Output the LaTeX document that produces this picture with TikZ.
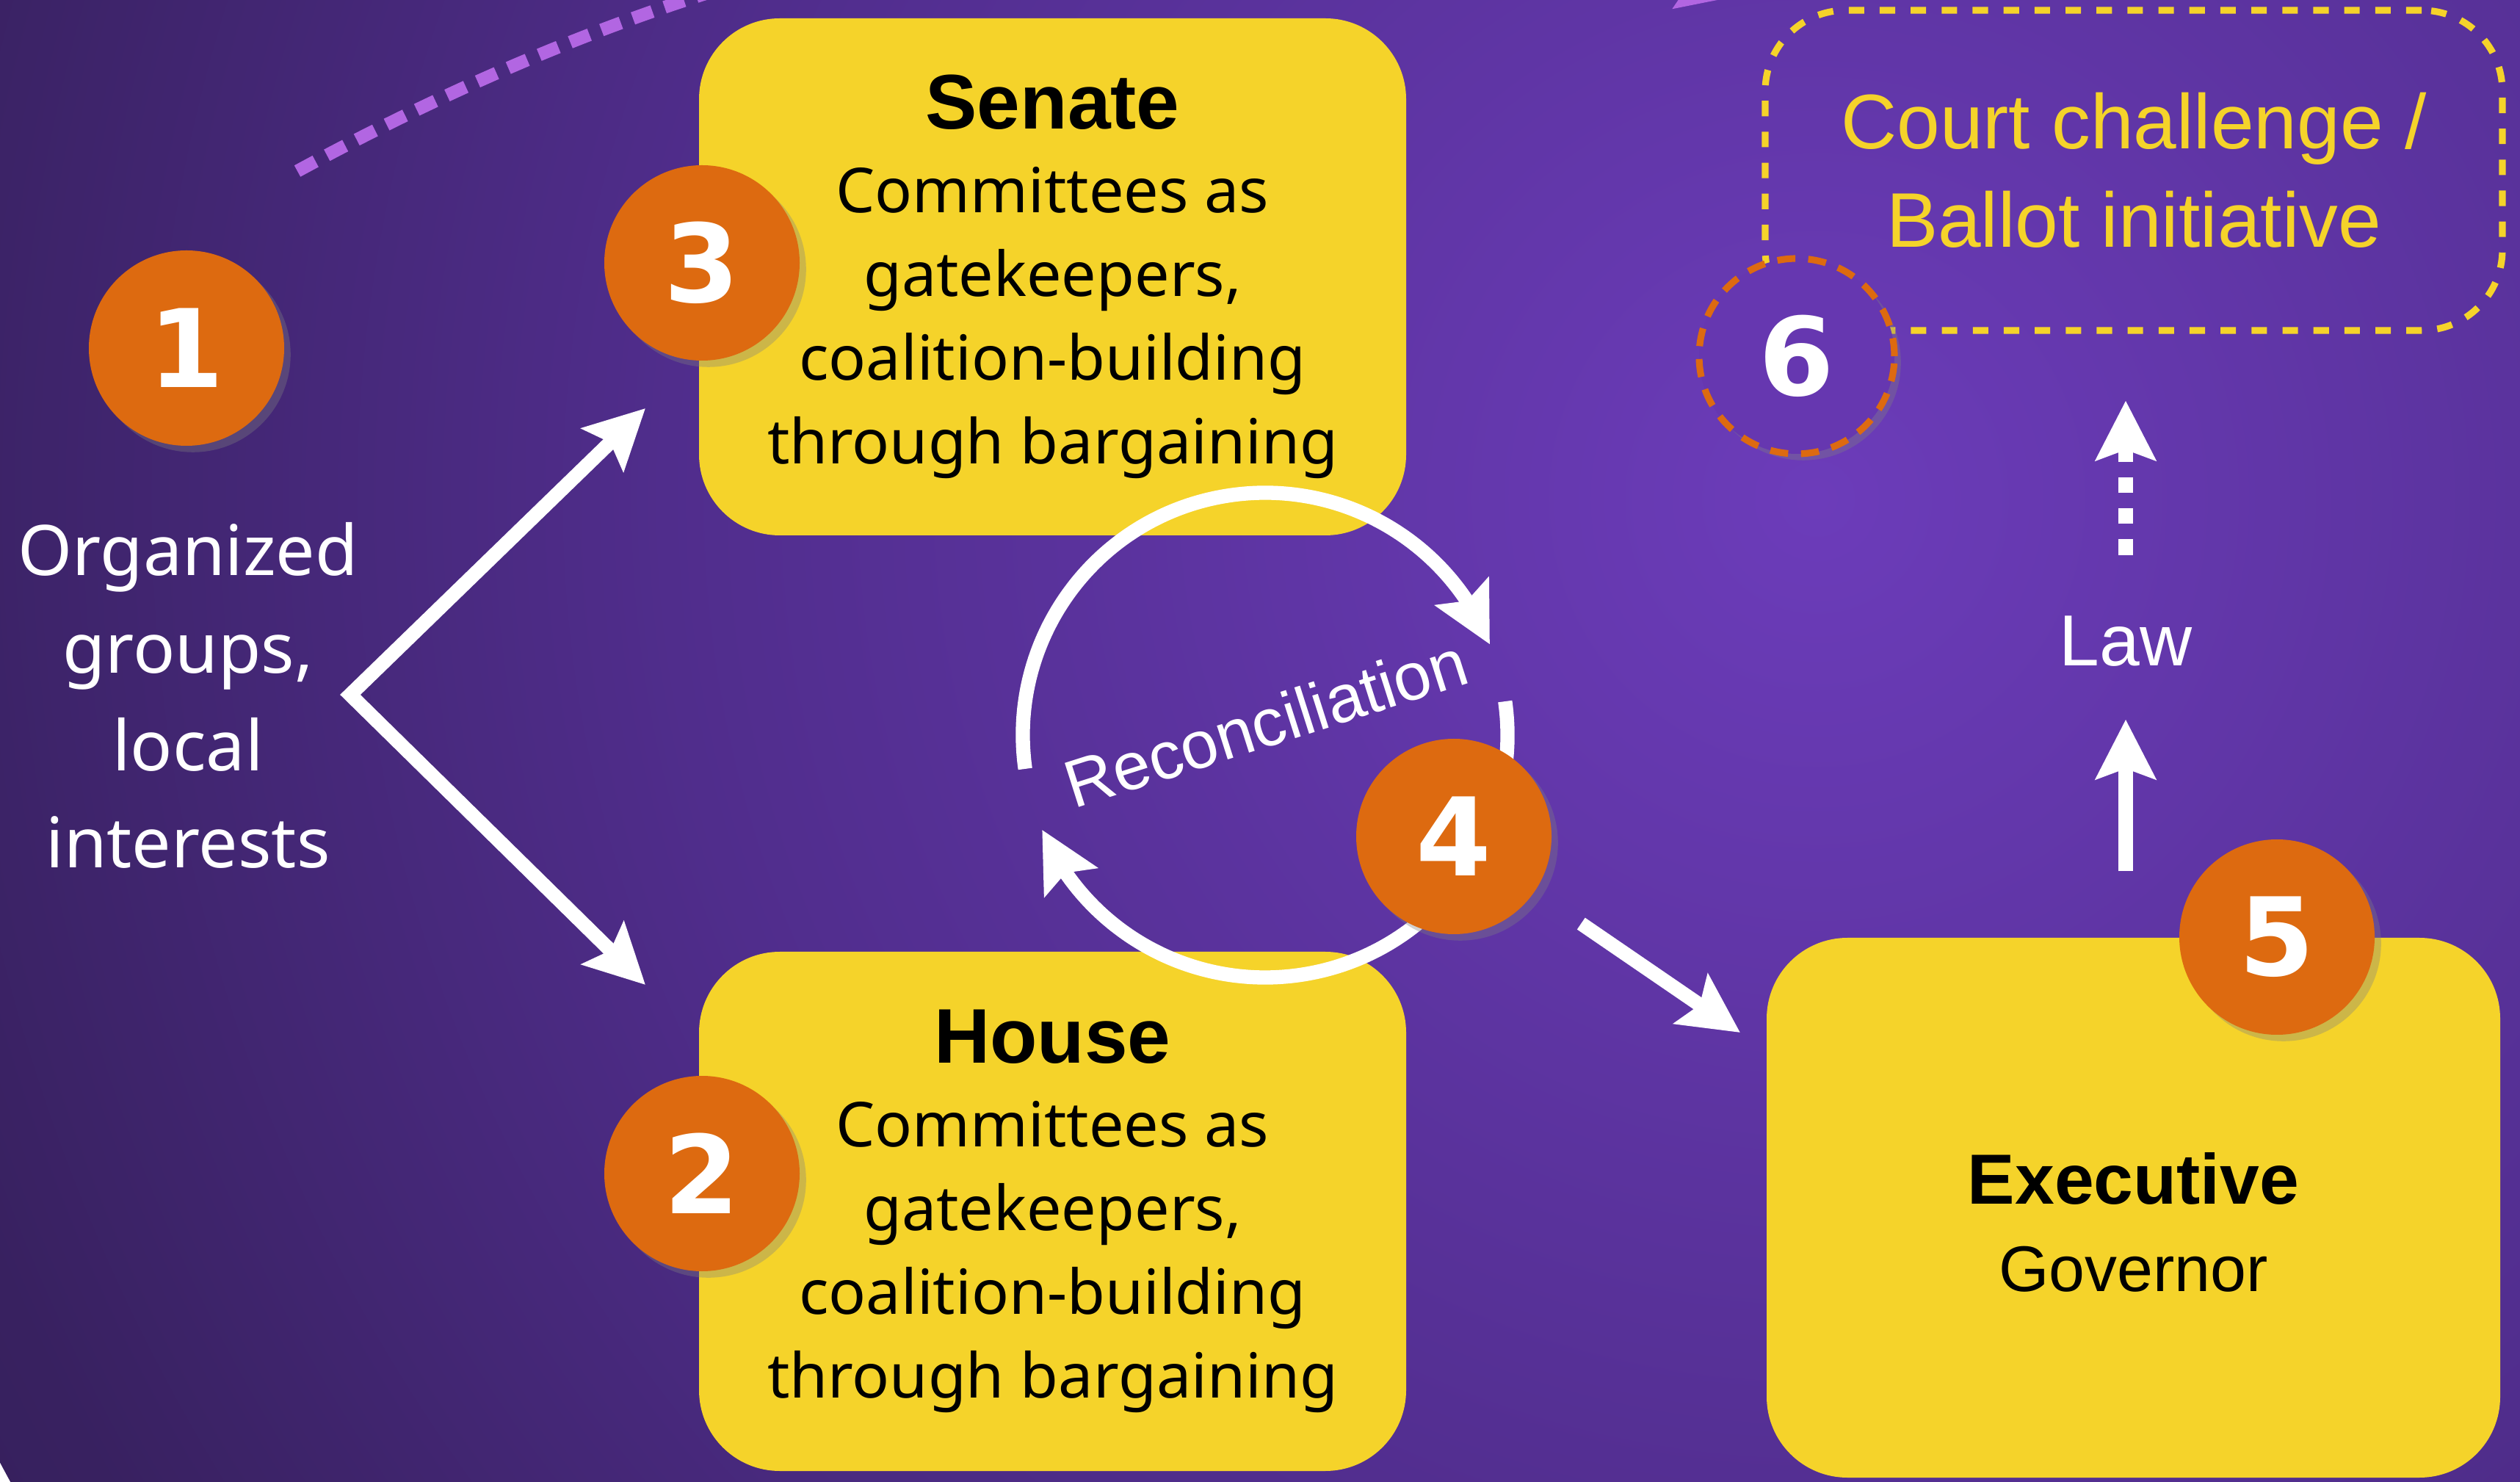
\documentclass[tikz,border=0pt]{standalone}
\usepackage{fontspec}
\setmainfont{Noto Sans}
\newfontfamily\arialfam{Liberation Sans}
\newfontfamily\digitfam{DejaVu Sans}
\usetikzlibrary{arrows.meta,bending,shadows}

\definecolor{panelyellow}{RGB}{245,211,42}
\definecolor{badgeorange}{RGB}{221,106,16}
\definecolor{lavender}{RGB}{178,102,226}
\definecolor{ringfill}{RGB}{102,55,176}
\definecolor{bgA}{RGB}{108,60,186}
\definecolor{bgB}{RGB}{80,45,140}
\definecolor{bgC}{RGB}{56,33,96}
\definecolor{bgD}{RGB}{42,26,76}
\definecolor{bgE}{RGB}{36,22,66}
\pgfdeclareradialshading{glow}{\pgfpoint{0bp}{0bp}}{color(0bp)=(bgA); color(14bp)=(bgB); color(24bp)=(bgC); color(36bp)=(bgD); color(50bp)=(bgE); color(100bp)=(bgE)}

\newcommand{\headfont}{\arialfam\bfseries\fontsize{30pt}{32.4pt}\selectfont}

\begin{document}
\begin{tikzpicture}[
    >={Stealth[length=23pt,width=23pt,inset=4pt]},
    panel/.style={fill=panelyellow, rounded corners=1.1cm, align=center, text=black, inner sep=0pt},
    body/.style={font=\fontsize{24pt}{32.4pt}\selectfont},
    badge/.style={circle, fill=badgeorange, minimum size=2.66cm, inner sep=0pt, text=white,
      font=\digitfam\bfseries\fontsize{42pt}{42pt}\selectfont,
      drop shadow={shadow xshift=2.5pt,shadow yshift=-2.5pt,opacity=0.35}},
    flow/.style={draw=white, line width=5.5pt, ->}]
  \useasboundingbox (0,0) rectangle (34.32,20.17);
  \clip (0,0) rectangle (34.32,20.17);
  \shade[shading=glow] (24.74,13.38) circle (28cm);

  % chambers and executive
  \node[panel, body, minimum width=9.63cm, minimum height=7.04cm] (senate) at (14.335,16.40)
    {{\headfont Senate}\\Committees as\\gatekeepers,\\coalition-building\\through bargaining};
  \node[panel, body, minimum width=9.63cm, minimum height=7.07cm] (house) at (14.335,3.675)
    {{\headfont House}\\Committees as\\gatekeepers,\\coalition-building\\through bargaining};
  \node[panel, minimum width=9.99cm, minimum height=7.35cm] (exec) at (29.055,3.725) {};
  \node[align=center, inner sep=0pt, font=\arialfam\fontsize{25pt}{34pt}\selectfont] (execLabel) at ([yshift=-2mm]exec.center)
    {{\arialfam\bfseries\fontsize{27.5pt}{32pt}\selectfont Executive}\\Governor};
  \node[draw=panelyellow, line width=2.6pt, dash pattern=on 6pt off 6pt, rounded corners=1.1cm,
    minimum width=10.04cm, minimum height=4.36cm, align=center, text=panelyellow,
    font=\arialfam\fontsize{30pt}{38pt}\selectfont] (court) at (29.06,17.85)
    {Court challenge /\\Ballot initiative};

  \node[text=white, align=center, font=\fontsize{27pt}{37.8pt}\selectfont] (groups) at (2.56,10.70)
    {Organized\\groups,\\local\\interests};
  \node[text=white, inner sep=0pt, anchor=base, font=\arialfam\fontsize{28pt}{28pt}\selectfont] (law) at (28.95,11.10) {Law};
  \node[text=white, inner sep=0pt, rotate=17.7, font=\arialfam\fontsize{26pt}{26pt}\selectfont] (recon) at (17.24,10.33) {Reconciliation};

  % appeal path leaving the frame
  \coordinate (appeal) at (4.05,17.84);
  \coordinate (appealEnd) at (23.80,20.25);
  \draw[lavender, line width=5pt, dash pattern=on 8pt off 5pt, -{Stealth[length=26pt,width=26pt,inset=4pt]}]
    (appeal) .. controls (12.80,22.60) and (19.00,21.67) .. (appealEnd);

  \coordinate (fork) at (4.77,10.71);
  \coordinate (toSenate) at (8.79,14.61);
  \coordinate (toHouse) at (8.79,6.76);
  \draw[flow, <->, line join=miter] (toSenate) -- (fork) -- (toHouse);

  \coordinate (cyc) at (17.23,10.16);
  \draw[flow] ([shift={(188:3.3)}]cyc) arc[start angle=188, end angle=22, radius=3.3];
  \draw[flow] ([shift={(8:3.3)}]cyc) arc[start angle=8, end angle=-157, radius=3.3];

  \node[badge] (b1) at (2.54,15.43) {1};
  \node[badge] (b3) at (9.56,16.59) {3};
  \node[badge] (b2) at (9.56,4.19) {2};
  \node[badge] (b4) at (19.80,8.78) {4};
  \node[badge] (b5) at (31.01,7.41) {5};
  \node[badge, fill=ringfill, draw=badgeorange, line width=2.6pt, dash pattern=on 7pt off 5pt] (b6) at (24.47,15.32) {6};

  \coordinate (toExec) at (23.70,6.11);
  \draw[flow, shorten <=2.1cm] (b4.center) -- (toExec);
  \draw[flow, shorten <=9mm, shorten >=7.1mm] (exec.north -| law) -- (law.south);
  \draw[flow, dash pattern=on 6pt off 6pt, shorten <=8.3mm, shorten >=9.1mm] (law.north) -- (court.south -| law);
\end{tikzpicture}
\end{document}
